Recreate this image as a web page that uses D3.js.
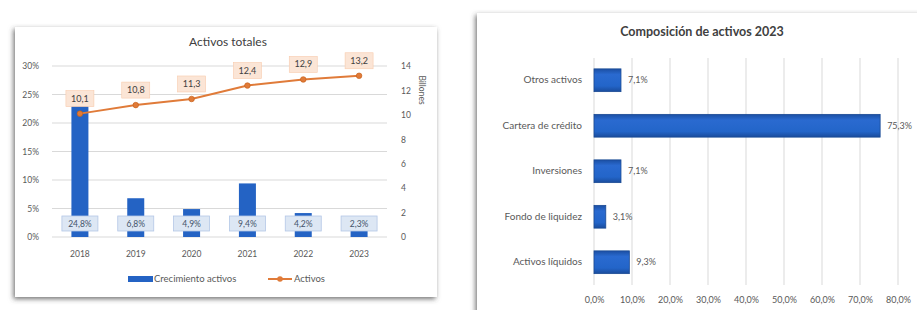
<!DOCTYPE html>
<html>
<head>
<meta charset="utf-8">
<script src="https://cdn.jsdelivr.net/npm/d3@7"></script>
<style>
  body { margin: 0; background: #fff; }
  svg { display: block; font-family: Lato, "Noto Sans", sans-serif; }
</style>
</head>
<body>
<svg id="chart" width="917" height="310"></svg>
<script>
// datos del grafico izquierdo
var years = ["2018", "2019", "2020", "2021", "2022", "2023"];
var crecimiento = [24.8, 6.8, 4.9, 9.4, 4.2, 2.3];   // %
var activos = [10.1, 10.8, 11.3, 12.4, 12.9, 13.2];   // billones
var leftTicks = [0, 5, 10, 15, 20, 25, 30];
var rightTicks = [0, 2, 4, 6, 8, 10, 12, 14];

// datos del grafico derecho
var rubros = ["Otros activos", "Cartera de crédito", "Inversiones", "Fondo de liquidez", "Activos líquidos"];
var composicion = [7.1, 75.3, 7.1, 3.1, 9.3];
var xTicks = [0, 10, 20, 30, 40, 50, 60, 70, 80];

var es = d3.formatLocale({decimal: ",", thousands: ".", grouping: [3], currency: ["", ""]});
var f1 = es.format(".1f");

var svg = d3.select("#chart");
var defs = svg.append("defs");

var sh = defs.append("filter").attr("id", "shadow")
  .attr("x", "-5%").attr("y", "-5%").attr("width", "110%").attr("height", "115%");
sh.append("feDropShadow").attr("dx", -1.5).attr("dy", 2).attr("stdDeviation", 2.5)
  .attr("flood-color", "#444").attr("flood-opacity", 0.75);

var grad = defs.append("linearGradient").attr("id", "barGrad")
  .attr("x1", 0).attr("y1", 0).attr("x2", 0).attr("y2", 1);
grad.append("stop").attr("offset", "0%").attr("stop-color", "#1b4fa3");
grad.append("stop").attr("offset", "25%").attr("stop-color", "#2a6ad0");
grad.append("stop").attr("offset", "75%").attr("stop-color", "#2365c9");
grad.append("stop").attr("offset", "100%").attr("stop-color", "#1a4c9c");

var txt = "#595959";

// ---------- tarjeta izquierda ----------
svg.append("rect").attr("x", 15).attr("y", 27).attr("width", 422).attr("height", 270)
  .attr("fill", "#fff").attr("filter", "url(#shadow)");

var left = svg.append("g");
left.append("text").attr("x", 228).attr("y", 46).attr("text-anchor", "middle")
  .attr("font-size", 12).attr("fill", "#404040").text("Activos totales");

var x = d3.scaleBand().domain(years).range([52, 387]);
var yL = d3.scaleLinear().domain([0, 30]).range([237, 66]);
var yR = d3.scaleLinear().domain([0, 14]).range([237, 66]);

left.append("g").selectAll("line").data(leftTicks).join("line")
  .attr("x1", 52).attr("x2", 387)
  .attr("y1", d => yL(d)).attr("y2", d => yL(d))
  .attr("stroke", "#d9d9d9").attr("stroke-width", 1);

var axL = left.append("g").attr("transform", "translate(42,0)")
  .call(d3.axisLeft(yL).tickValues(leftTicks).tickSize(0).tickFormat(d => d + "%"));
var axR = left.append("g").attr("transform", "translate(398,0)")
  .call(d3.axisRight(yR).tickValues(rightTicks).tickSize(0));
var axX = left.append("g").attr("transform", "translate(0,246)")
  .call(d3.axisBottom(x).tickSize(0));
[axL, axR, axX].forEach(function(a) {
  a.select(".domain").remove();
  a.selectAll("text").attr("font-size", 8.5).attr("fill", txt).attr("font-family", "Lato, sans-serif");
});
axX.selectAll("text").attr("dy", "0.9em");

left.append("text").attr("transform", "translate(419,90) rotate(90)")
  .attr("text-anchor", "middle").attr("font-size", 8.5).attr("fill", txt).text("Billones");

var bw = 17;
left.append("g").selectAll("rect").data(crecimiento).join("rect")
  .attr("x", (d, i) => x(years[i]) + x.bandwidth() / 2 - bw / 2)
  .attr("y", d => yL(d))
  .attr("width", bw)
  .attr("height", d => yL(0) - yL(d))
  .attr("fill", "#2463c4");

// etiquetas de barras
var bl = left.append("g").selectAll("g").data(crecimiento).join("g")
  .attr("transform", (d, i) => "translate(" + (x(years[i]) + x.bandwidth() / 2) + ",224)");
bl.append("rect").attr("x", -18).attr("y", -8).attr("width", 36).attr("height", 15)
  .attr("fill", "#dde7f4").attr("stroke", "#b4c7e7").attr("stroke-width", 0.8);
bl.append("text").attr("text-anchor", "middle").attr("dy", "0.33em")
  .attr("font-size", 8.5).attr("fill", "#44546a").text(d => f1(d) + "%");

// linea de activos
var line = d3.line().x((d, i) => x(years[i]) + x.bandwidth() / 2).y(d => yR(d));
left.append("path").datum(activos).attr("d", line)
  .attr("fill", "none").attr("stroke", "#e07b39").attr("stroke-width", 2);
left.append("g").selectAll("circle").data(activos).join("circle")
  .attr("cx", (d, i) => x(years[i]) + x.bandwidth() / 2)
  .attr("cy", d => yR(d)).attr("r", 2.8)
  .attr("fill", "#e07b39").attr("stroke", "#c55a11").attr("stroke-width", 0.6);

var ll = left.append("g").selectAll("g").data(activos).join("g")
  .attr("transform", (d, i) => "translate(" + (x(years[i]) + x.bandwidth() / 2) + "," + (yR(d) - 15) + ")");
ll.append("rect").attr("x", -14).attr("y", -8).attr("width", 28).attr("height", 16)
  .attr("fill", "#fbe5d6").attr("stroke", "#f8cbad").attr("stroke-width", 0.6);
ll.append("text").attr("text-anchor", "middle").attr("dy", "0.33em")
  .attr("font-size", 9).attr("fill", "#404040").text(d => f1(d));

// leyenda
var lg = left.append("g").attr("transform", "translate(0,279)");
lg.append("rect").attr("x", 128).attr("y", -3).attr("width", 25).attr("height", 6).attr("fill", "#2463c4");
lg.append("text").attr("x", 154).attr("dy", "0.35em").attr("font-size", 9.5).attr("fill", txt).text("Crecimiento activos");
lg.append("line").attr("x1", 268).attr("x2", 292).attr("stroke", "#e07b39").attr("stroke-width", 2);
lg.append("circle").attr("cx", 280).attr("r", 2.8).attr("fill", "#e07b39");
lg.append("text").attr("x", 294).attr("dy", "0.35em").attr("font-size", 9.5).attr("fill", txt).text("Activos");

// ---------- tarjeta derecha ----------
svg.append("rect").attr("x", 477).attr("y", 13).attr("width", 460).attr("height", 310)
  .attr("fill", "#fff").attr("filter", "url(#shadow)");

var right = svg.append("g");
right.append("text").attr("x", 702).attr("y", 36).attr("text-anchor", "middle")
  .attr("font-size", 12.5).attr("font-weight", "bold").attr("fill", "#404040")
  .text("Composición de activos 2023");

var xr = d3.scaleLinear().domain([0, 80]).range([594, 898]);
var yb = d3.scaleBand().domain(rubros).range([57.5, 285]).paddingInner(0.5).paddingOuter(0.25);

right.append("g").selectAll("line").data(xTicks).join("line")
  .attr("x1", d => xr(d)).attr("x2", d => xr(d))
  .attr("y1", 58).attr("y2", 285)
  .attr("stroke", "#d9d9d9").attr("stroke-width", 1);

var axB = right.append("g").attr("transform", "translate(0,294)")
  .call(d3.axisBottom(xr).tickValues(xTicks).tickSize(0).tickFormat(d => f1(d) + "%"));
var axC = right.append("g").attr("transform", "translate(584,0)")
  .call(d3.axisLeft(yb).tickSize(0));
[axB, axC].forEach(function(a) {
  a.select(".domain").remove();
  a.selectAll("text").attr("font-size", 9).attr("fill", txt).attr("font-family", "Lato, sans-serif");
});
axC.selectAll("text").attr("font-size", 10).attr("x", -2);

right.append("g").selectAll("rect").data(composicion).join("rect")
  .attr("x", xr(0))
  .attr("y", (d, i) => yb(rubros[i]))
  .attr("width", d => xr(d) - xr(0))
  .attr("height", yb.bandwidth())
  .attr("fill", "url(#barGrad)").attr("stroke", "#1a4a94").attr("stroke-width", 0.8);

right.append("g").selectAll("text").data(composicion).join("text")
  .attr("x", d => xr(d) + 7)
  .attr("y", (d, i) => yb(rubros[i]) + yb.bandwidth() / 2)
  .attr("dy", "0.35em").attr("font-size", 9).attr("fill", txt)
  .text(d => f1(d) + "%");
</script>
</body>
</html>
